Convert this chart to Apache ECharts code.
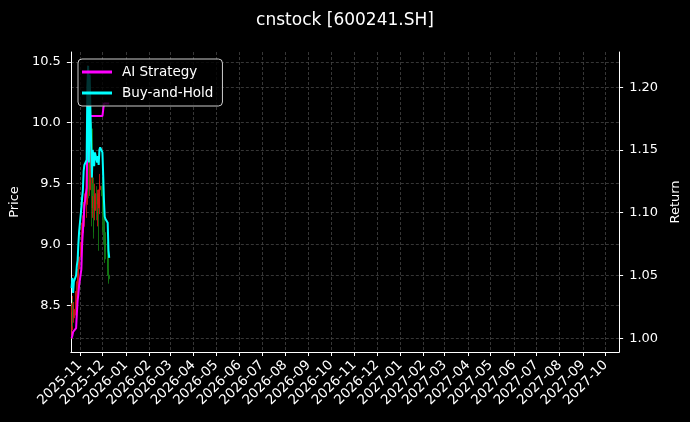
<!DOCTYPE html>
<html><head><meta charset="utf-8">
<script src="https://cdn.jsdelivr.net/npm/echarts@6/dist/echarts.min.js"></script>
<style>html,body{margin:0;padding:0;background:#000}#c{width:690px;height:422px}</style>
</head><body><div id="c"></div>
<script>
const dates = ['2025-10-21','2025-10-22','2025-10-23','2025-10-24','2025-10-27','2025-10-28','2025-10-29','2025-10-30','2025-10-31',
'2025-11-03','2025-11-04','2025-11-05','2025-11-06','2025-11-07','2025-11-10','2025-11-11','2025-11-12','2025-11-13','2025-11-14',
'2025-11-17','2025-11-18','2025-11-19','2025-11-20','2025-11-21','2025-11-24','2025-11-25','2025-11-26','2025-11-27','2025-11-28',
'2025-12-01','2025-12-02','2025-12-03','2025-12-04','2025-12-05','2025-12-08','2025-12-09','2025-12-10'];
const openP  = [8.30,8.45,8.50,8.40,8.47,8.55,8.62,8.68,8.80,8.90,9.02,9.10,9.15,9.28,9.33,9.38,9.85,10.15,9.45,9.95,9.30,9.50,9.40,9.28,9.42,9.33,9.38,9.30,9.45,9.48,9.40,9.25,9.10,8.98,8.95,8.92,8.75];
const closeP = [8.45,8.50,8.40,8.47,8.55,8.62,8.68,8.80,8.90,9.02,9.10,9.15,9.28,9.33,9.38,9.85,10.15,9.45,9.95,9.30,9.50,9.40,9.28,9.42,9.33,9.38,9.30,9.45,9.48,9.40,9.25,9.10,8.98,8.95,8.92,8.75,8.72];
const lowP   = [8.23,8.38,8.33,8.36,8.42,8.50,8.56,8.64,8.74,8.85,8.96,9.03,9.10,9.18,9.22,9.35,9.80,9.38,9.40,9.15,9.22,9.10,9.05,9.20,9.20,9.15,8.95,9.25,9.30,9.25,9.10,9.00,8.85,8.88,8.80,8.70,8.68];
const highP  = [8.52,8.58,8.55,8.53,8.62,8.70,8.76,8.86,8.97,9.10,9.18,9.24,9.35,9.42,9.55,10.05,10.47,10.20,10.10,10.00,9.58,9.55,9.45,9.50,9.48,9.45,9.42,9.52,9.58,9.55,9.45,9.30,9.15,9.05,9.02,8.96,8.80];
const aiStrategy = [1.000,1.002,1.005,1.006,1.008,1.020,1.030,1.035,1.042,1.055,1.075,1.085,1.095,1.105,1.120,1.160,1.195,1.177,1.177,1.177,1.177,1.177,1.177,1.177,1.177,1.177,1.177,1.177,1.177,1.177,1.177,1.187,1.187,1.187,1.187,1.187,1.187];
const buyHold = [1.040,1.048,1.036,1.045,1.050,1.058,1.062,1.075,1.085,1.104,1.112,1.118,1.133,1.138,1.142,1.200,1.217,1.140,1.210,1.128,1.150,1.145,1.137,1.148,1.140,1.145,1.138,1.150,1.152,1.148,1.130,1.110,1.097,1.095,1.092,1.070,1.064];
const monthTicks = ['2025-11','2025-12','2026-01','2026-02','2026-03','2026-04','2026-05','2026-06','2026-07','2026-08','2026-09','2026-10','2026-11','2026-12',
'2027-01','2027-02','2027-03','2027-04','2027-05','2027-06','2027-07','2027-08','2027-09','2027-10'];
const priceTicks = [8.5,9.0,9.5,10.0,10.5];
const returnTicks = [1.00,1.05,1.10,1.15,1.20];

function ts(s){const p=s.split('-').map(Number);return Date.UTC(p[0],p[1]-1,p[2]||1);}
const monthTs = monthTicks.map(ts);
const candleData = dates.map((d,i)=>[ts(d),openP[i],closeP[i],lowP[i],highP[i]]);
const aiData = dates.map((d,i)=>[ts(d),aiStrategy[i]]);
const bhData = dates.map((d,i)=>[ts(d),buyHold[i]]);

const FONT = 'DejaVu Sans';
const gridLine = {show:true,lineStyle:{color:'#444',type:[3,2],width:0.8}};
const chart = echarts.init(document.getElementById('c'));
chart.setOption({
  backgroundColor:'#000',
  animation:false,
  textStyle:{fontFamily:FONT},
  title:{text:'cnstock [600241.SH]',left:'center',top:7,textStyle:{color:'#fff',fontSize:17,fontWeight:'normal',fontFamily:FONT}},
  grid:{left:70,right:70,top:52,bottom:70},
  legend:{
    left:78,top:59,orient:'vertical',z:20,
    backgroundColor:'rgba(0,0,0,0.8)',borderColor:'#ccc',borderWidth:1,borderRadius:4,
    padding:[6,9,6,4],itemGap:7,itemWidth:30,itemHeight:3,icon:'rect',
    textStyle:{color:'#fff',fontSize:13.5,fontFamily:FONT,padding:[0,0,0,5]},
    data:['AI Strategy','Buy-and-Hold']
  },
  xAxis:{
    type:'value',min:ts('2025-10-20'),max:ts('2027-10-19'),scale:true,
    axisLine:{onZero:false,lineStyle:{color:'#fff',width:1}},
    axisTick:{show:true,length:4,lineStyle:{color:'#fff'},customValues:monthTs},
    axisLabel:{color:'#fff',fontSize:13.5,rotate:45,fontFamily:FONT,margin:11,customValues:monthTs,
      formatter:function(v){const d=new Date(v);return d.getUTCFullYear()+'-'+String(d.getUTCMonth()+1).padStart(2,'0');}},
    splitLine:gridLine
  },
  yAxis:[
    {type:'value',name:'Price',nameLocation:'middle',nameGap:42,nameTextStyle:{color:'#fff',fontSize:13,fontFamily:FONT},
     min:8.12,max:10.58,position:'left',
     axisLine:{show:true,lineStyle:{color:'#fff'}},
     axisTick:{show:true,length:4,lineStyle:{color:'#fff'},customValues:priceTicks},
     axisLabel:{color:'#fff',fontSize:13,fontFamily:FONT,margin:10,customValues:priceTicks,formatter:v=>v.toFixed(1)},
     splitLine:gridLine},
    {type:'value',name:'Return',nameLocation:'middle',nameGap:43,nameTextStyle:{color:'#fff',fontSize:13,fontFamily:FONT},
     min:0.989,max:1.228,position:'right',
     axisLine:{show:true,lineStyle:{color:'#fff'}},
     axisTick:{show:true,length:4,lineStyle:{color:'#fff'},customValues:returnTicks},
     axisLabel:{color:'#fff',fontSize:13,fontFamily:FONT,margin:10,customValues:returnTicks,formatter:v=>v.toFixed(2)},
     splitLine:gridLine}
  ],
  series:[
    {type:'candlestick',name:'Price',yAxisIndex:0,data:candleData,encode:{x:0,y:[1,2,3,4]},barWidth:1.5,
     itemStyle:{color:'#d01a14',color0:'#137a13',borderColor:'#d01a14',borderColor0:'#137a13',borderWidth:1,opacity:0.85}},
    {type:'line',name:'AI Strategy',yAxisIndex:1,data:aiData,showSymbol:false,symbol:'none',
     lineStyle:{color:'#ff00ff',width:2},itemStyle:{color:'#ff00ff'}},
    {type:'line',name:'Buy-and-Hold',yAxisIndex:1,data:bhData,showSymbol:false,symbol:'none',
     lineStyle:{color:'#00ffff',width:2},itemStyle:{color:'#00ffff'}}
  ]
});
</script></body></html>
